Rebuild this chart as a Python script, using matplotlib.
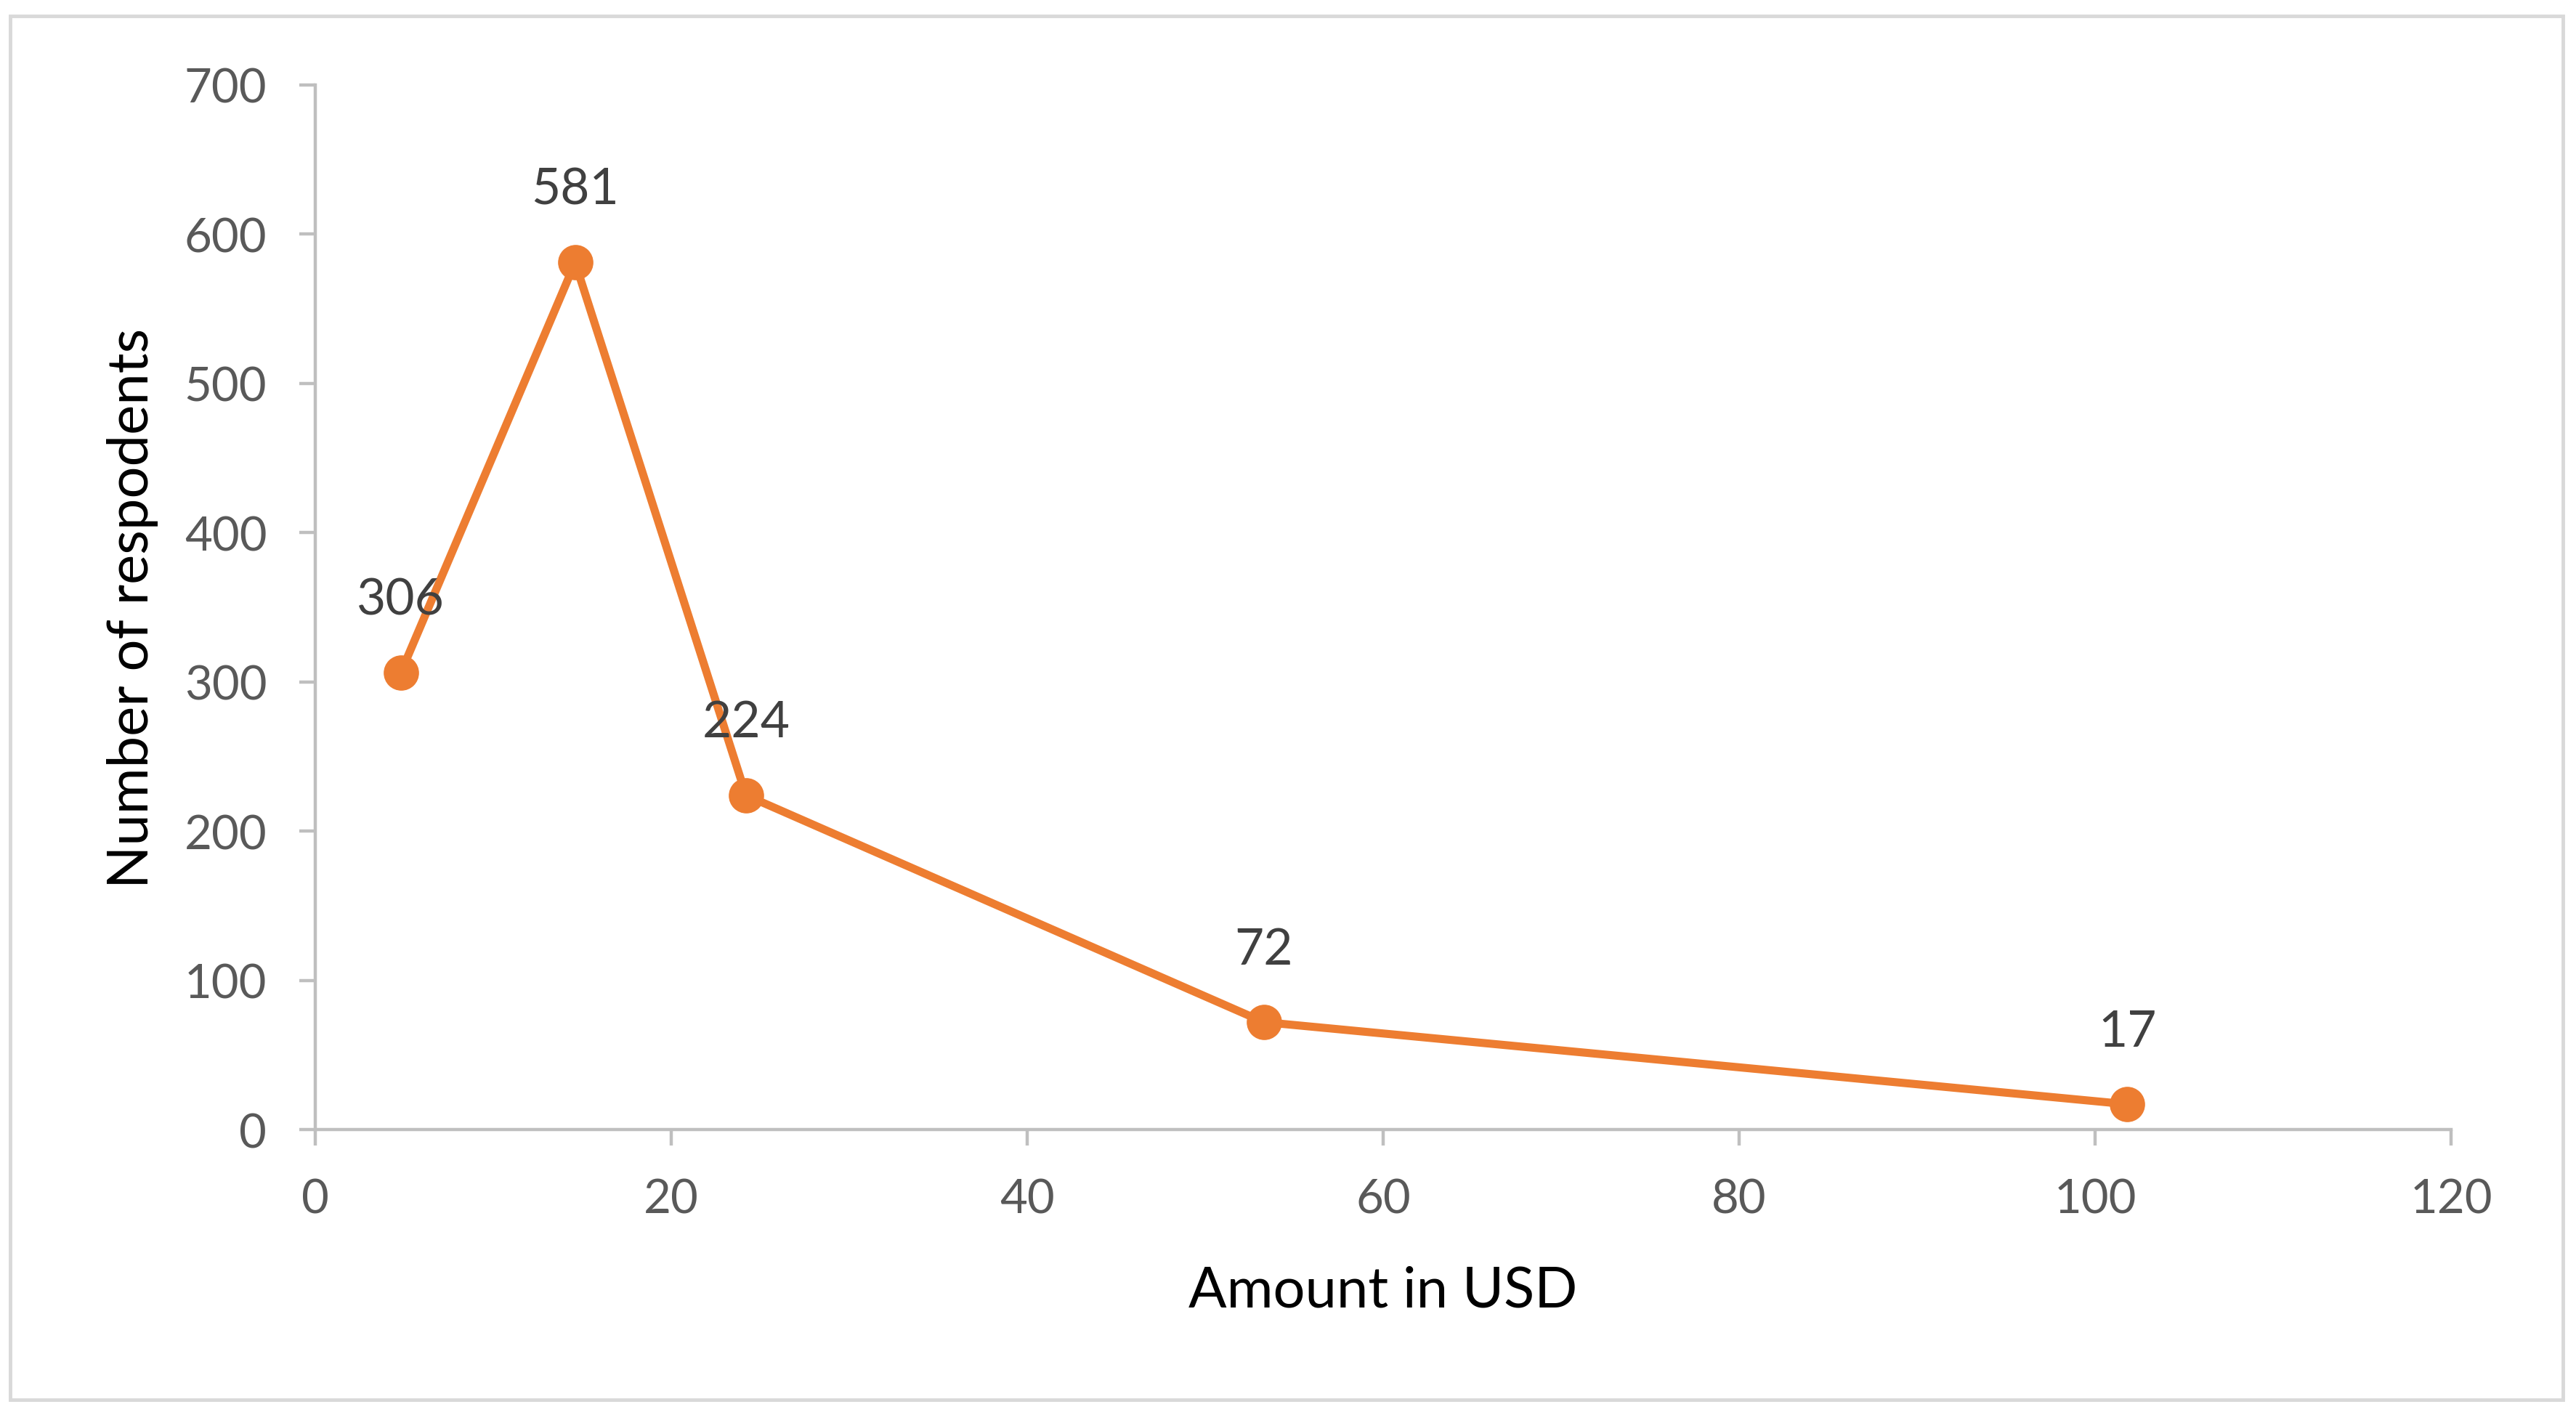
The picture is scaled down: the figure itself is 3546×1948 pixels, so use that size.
import matplotlib.pyplot as plt
from matplotlib.patches import Rectangle

# amounts (USD) and counts
amount_usd = [4.8, 14.6, 24.2, 53.3, 101.8]
respondents = [306, 581, 224, 72, 17]
x_ticks = [0, 20, 40, 60, 80, 100, 120]
y_ticks = [0, 100, 200, 300, 400, 500, 600, 700]

orange = '#ED7D31'
axis_grey = '#BFBFBF'

plt.rcParams['font.family'] = ['Lato', 'DejaVu Sans']

fig = plt.figure(figsize=(35.46, 19.49), dpi=100)
ax = fig.add_axes([0.1224, 0.2016, 0.8291, 0.7379])

# outer chart border
fig.patches.append(Rectangle((0.004, 0.011), 0.991, 0.977, transform=fig.transFigure,
                             fill=False, edgecolor='#D9D9D9', linewidth=3.5))

ax.plot(amount_usd, respondents, color=orange, linewidth=8, marker='o',
        markersize=34, solid_joinstyle='round', clip_on=False)

for x, y in zip(amount_usd, respondents):
    ax.annotate(str(y), (x, y), xytext=(0, 72), textcoords='offset points',
                ha='center', va='center', fontsize=50, color='#404040')

ax.set_xlim(0, 120)
ax.set_ylim(0, 700)
ax.set_xticks(x_ticks)
ax.set_yticks(y_ticks)

for side in ['top', 'right']:
    ax.spines[side].set_visible(False)
for side in ['left', 'bottom']:
    ax.spines[side].set_color(axis_grey)
    ax.spines[side].set_linewidth(3.2)

ax.tick_params(axis='both', direction='out', length=16, width=3.2, color=axis_grey,
               labelsize=47, labelcolor='#595959', pad=32)

ax.set_xlabel('Amount in USD', fontsize=56, color='black', labelpad=44)
ax.set_ylabel('Number of respodents', fontsize=56, color='black', labelpad=26)

fig.savefig('out.png', dpi=100)
